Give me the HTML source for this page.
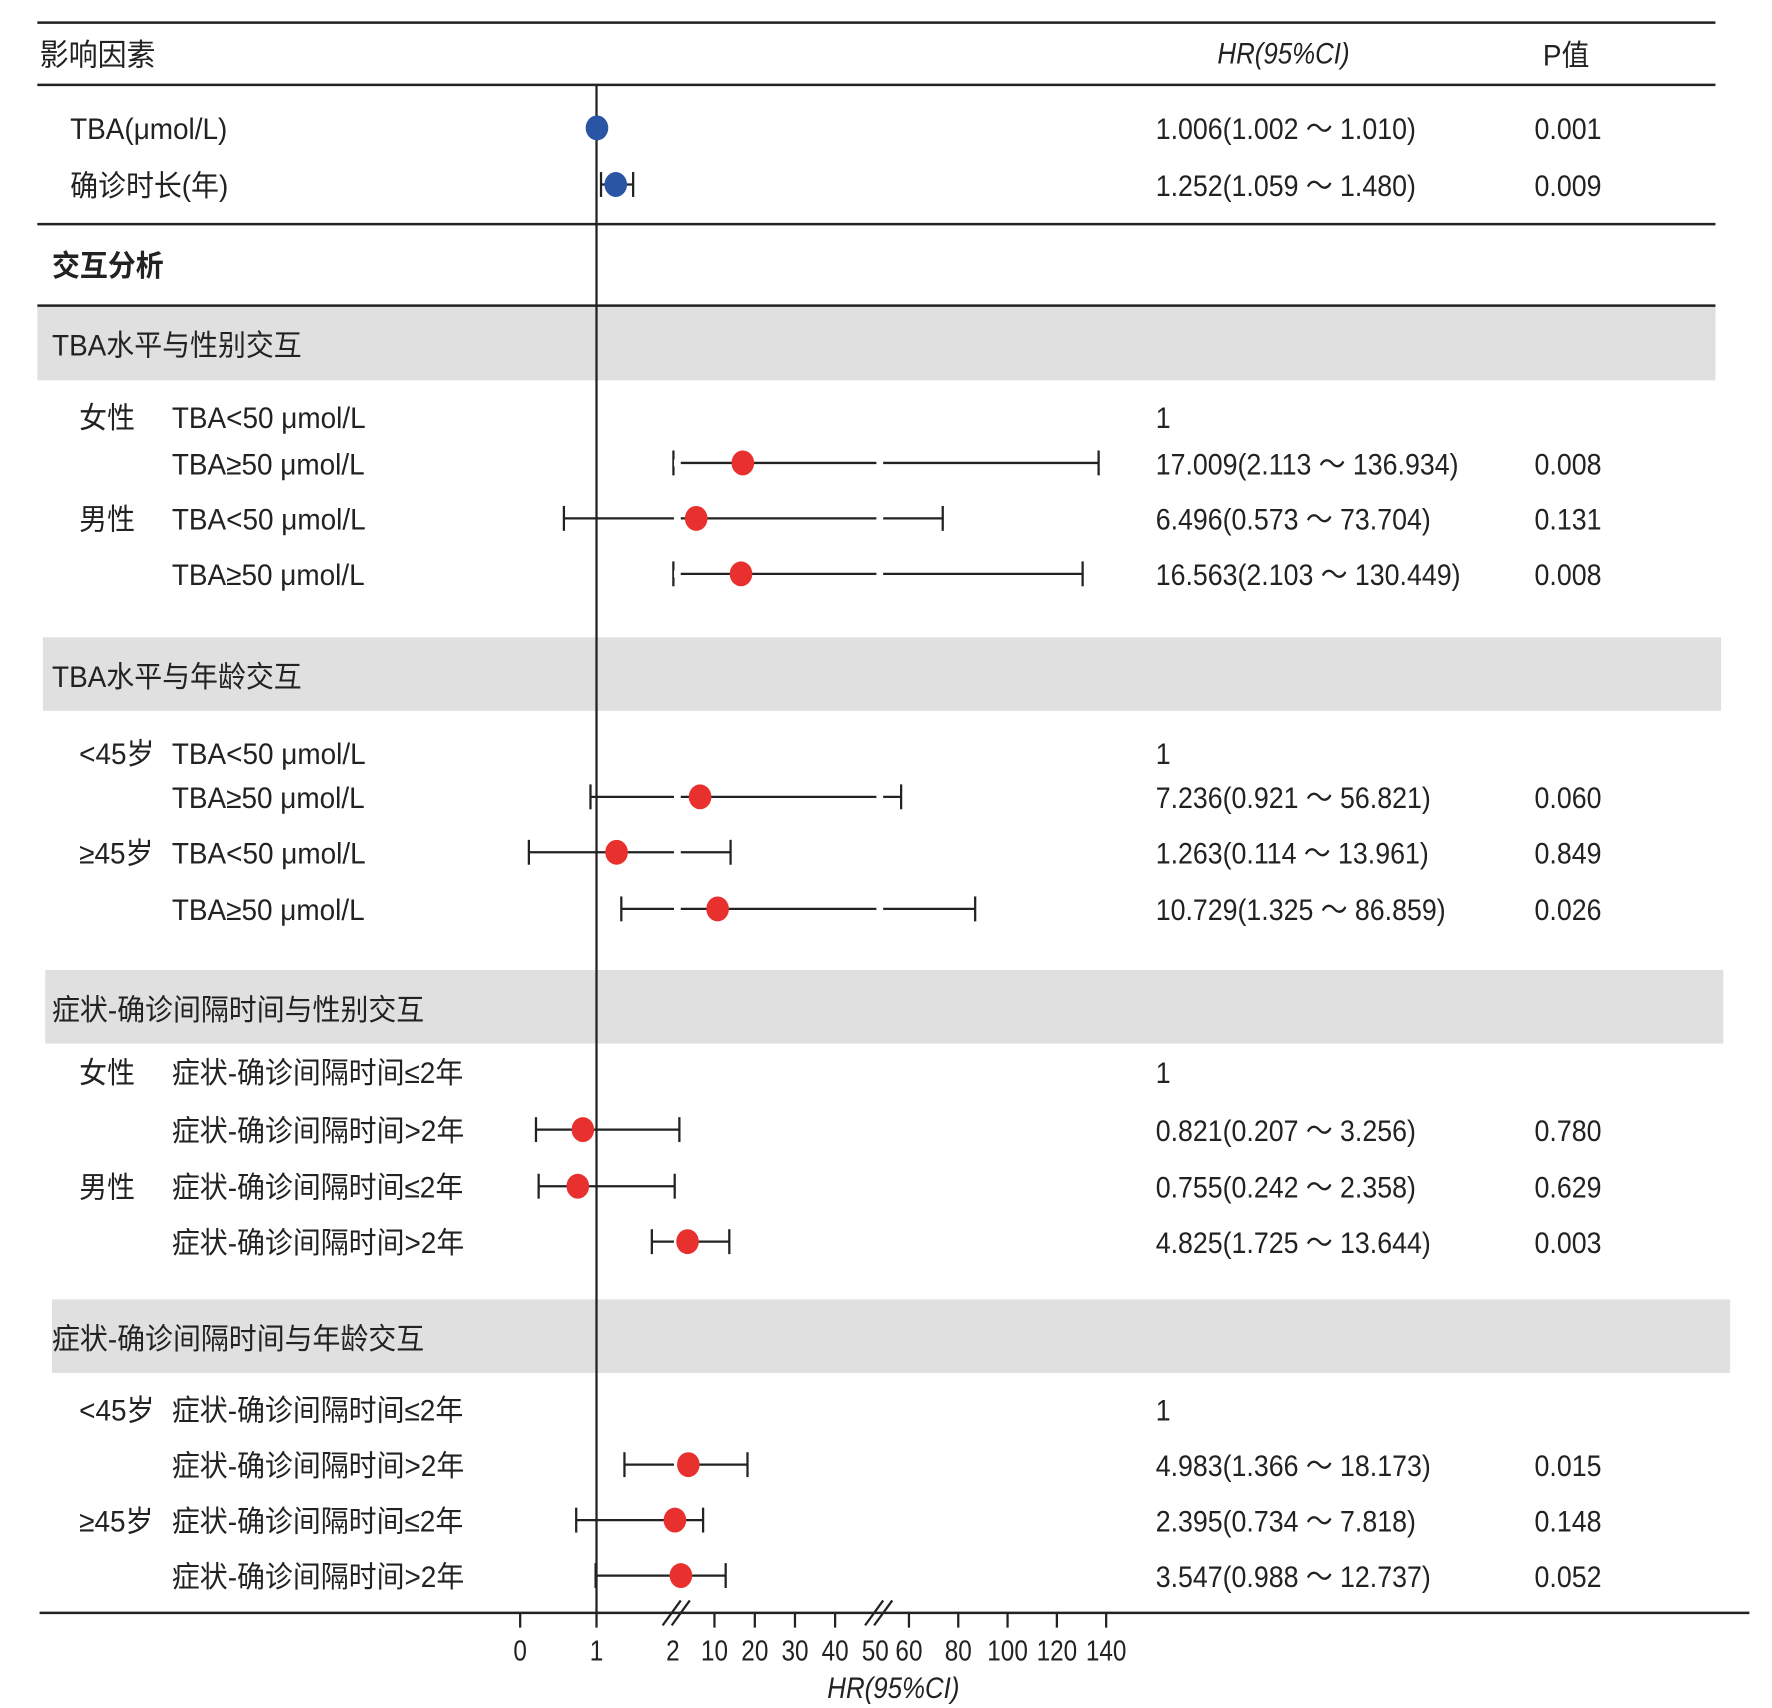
<!DOCTYPE html>
<html><head><meta charset="utf-8"><style>
html,body{margin:0;padding:0;background:#fff;}
svg{display:block;}
text{font-family:"Liberation Sans","Noto Sans CJK SC",sans-serif;fill:#222;}
</style></head><body>
<svg id="chart" width="1772" height="1708" viewBox="0 0 1567 1509" preserveAspectRatio="none" xmlns="http://www.w3.org/2000/svg">
</svg>
<script>
// ---- data ----
const rowLabels = ["TBA(μmol/L)","确诊时长(年)","TBA<50 μmol/L","TBA≥50 μmol/L","TBA<50 μmol/L","TBA≥50 μmol/L","TBA<50 μmol/L","TBA≥50 μmol/L","TBA<50 μmol/L","TBA≥50 μmol/L","症状-确诊间隔时间≤2年","症状-确诊间隔时间>2年","症状-确诊间隔时间≤2年","症状-确诊间隔时间>2年","症状-确诊间隔时间≤2年","症状-确诊间隔时间>2年","症状-确诊间隔时间≤2年","症状-确诊间隔时间>2年"];
const hrValues = [1.006,1.252,null,17.009,6.496,16.563,null,7.236,1.263,10.729,null,0.821,0.755,4.825,null,4.983,2.395,3.547];
const ciLower  = [1.002,1.059,null,2.113,0.573,2.103,null,0.921,0.114,1.325,null,0.207,0.242,1.725,null,1.366,0.734,0.988];
const ciUpper  = [1.010,1.480,null,136.934,73.704,130.449,null,56.821,13.961,86.859,null,3.256,2.358,13.644,null,18.173,7.818,12.737];
const hrText = ["1.006(1.002 ～ 1.010)","1.252(1.059 ～ 1.480)","1","17.009(2.113 ～ 136.934)","6.496(0.573 ～ 73.704)","16.563(2.103 ～ 130.449)","1","7.236(0.921 ～ 56.821)","1.263(0.114 ～ 13.961)","10.729(1.325 ～ 86.859)","1","0.821(0.207 ～ 3.256)","0.755(0.242 ～ 2.358)","4.825(1.725 ～ 13.644)","1","4.983(1.366 ～ 18.173)","2.395(0.734 ～ 7.818)","3.547(0.988 ～ 12.737)"];
const pText = ["0.001","0.009","","0.008","0.131","0.008","","0.060","0.849","0.026","","0.780","0.629","0.003","","0.015","0.148","0.052"];
const groupLabels = ["","","女性","","男性","","<45岁","","≥45岁","","女性","","男性","","<45岁","","≥45岁",""];
const tickValues = [0,1,10,20,30,40,60,80,100,120,140];
const tickLabels = ["0","1","2","10","20","30","40","50","60","80","100","120","140"];
const tickLabelValues = [0,1,2,10,20,30,40,50,60,80,100,120,140];
const sections = ["TBA水平与性别交互","TBA水平与年龄交互","症状-确诊间隔时间与性别交互","症状-确诊间隔时间与年龄交互"];

// ---- layout ----
const rowY = [113,163,368,409,458,507,665,704,753,803,947,998,1048,1097,1245,1294,1343,1392];
const bandY = [270,563,857,1148];
const bandX = [33,38,40,46];
const S = document.getElementById('chart');
const NS = "http://www.w3.org/2000/svg";
function xs(v){
  if(v<=2) return 460+67.5*v;
  if(v<=10) return 595+(v-2)*4.6;
  if(v<=50) return 632+(v-10)*3.55;
  return 782+(v-50)*2.18;
}
function mk(tag, attrs, parent){
  const e=document.createElementNS(NS,tag);
  for(const k in attrs) e.setAttribute(k,attrs[k]);
  (parent||S).appendChild(e); return e;
}
function txt(str,x,y,opts){
  opts=opts||{};
  const g=mk('g',{transform:`translate(${x},${y}) scale(${opts.sx||0.95},1)`});
  const t=mk('text',{x:0,y:0,'font-size':opts.size||26,'text-anchor':opts.anchor||'start'},g);
  if(opts.bold) t.setAttribute('font-weight','bold');
  if(opts.italic) t.setAttribute('font-style','italic');
  t.textContent=str; return t;
}
// bands
sections.forEach((s,i)=>{
  const r=mk('rect',{x:bandX[i],y:bandY[i]+(i?0:1),width:1484,height:65,fill:'#e0e0e0'});
  
  
  const t=txt(s,46,bandY[i]+44);
  
  
});
// horizontal rules
[[20,33,1517],[75,33,1517],[198,33,1517],[270,33,1517]].forEach(l=>{
  const e=mk('line',{x1:l[1],x2:l[2],y1:l[0],y2:l[0],stroke:'#222','stroke-width':2.2});
  
  
});
// header
let h=txt('影响因素',35,58,{size:27});  
h=txt('HR(95%CI)',1135,56,{anchor:'middle',italic:true,sx:0.88});  
h=txt('P值',1385,58,{anchor:'middle'});  
h=txt('交互分析',46,244,{bold:true});  
// reference line
const ref=mk('line',{x1:xs(1),x2:xs(1),y1:75,y2:1425,stroke:'#222','stroke-width':2});


// rows
rowLabels.forEach((lab,i)=>{
  const y=rowY[i];
  const lx = i<2 ? 62 : 152;
  const t=txt(lab,lx,y+10);
  
  
  if(groupLabels[i]){
    const g=txt(groupLabels[i],70,y+10);
    
    
  }
  const ht=txt(hrText[i],1022,y+10,{sx:0.91});
  
  
  if(pText[i]){
    const pt=txt(pText[i],1357,y+10,{sx:0.91});
    
    
  }
  if(hrValues[i]!==null){
    const x1=xs(ciLower[i]), x2=xs(ciUpper[i]);
    const l=mk('line',{x1:x1,x2:x2,y1:y,y2:y,stroke:'#222','stroke-width':2});
    
    
    [x1,x2].forEach(xx=>{
      const c=mk('line',{x1:xx,x2:xx,y1:y-11,y2:y+11,stroke:'#222','stroke-width':2});
      
      
    });
    if(i>=2){
      [[596,602],[775,781]].forEach(b=>{
        if(x1<b[0] && x2>b[1]){
          const r=mk('rect',{x:b[0],y:y-3,width:b[1]-b[0],height:6,fill:'#fff'});
          
          
        }
      });
    }
    const pt=mk('ellipse',{cx:xs(hrValues[i]),cy:y,rx:10,ry:11,fill:i<2?'#2a55a5':'#e8302e'});
    
    
  }
});
// x axis
const ax=mk('line',{x1:35,x2:1547,y1:1425,y2:1425,stroke:'#222','stroke-width':2.2});


tickValues.forEach(v=>{
  const t=mk('line',{x1:xs(v),x2:xs(v),y1:1425,y2:1438,stroke:'#222','stroke-width':2});
  
  
});
tickLabels.forEach((s,i)=>{
  const t=txt(s,xs(tickLabelValues[i]),1467,{anchor:'middle',size:25,sx:0.86});
  
  
});
[598,777].forEach(bx=>{
  [-4,4].forEach(d=>{
    const s=mk('line',{x1:bx+d-8,x2:bx+d+8,y1:1436,y2:1414,stroke:'#222','stroke-width':2});
    
    
  });
});
const xt=txt('HR(95%CI)',790,1500,{anchor:'middle',italic:true,sx:0.88});


</script>
</body></html>
